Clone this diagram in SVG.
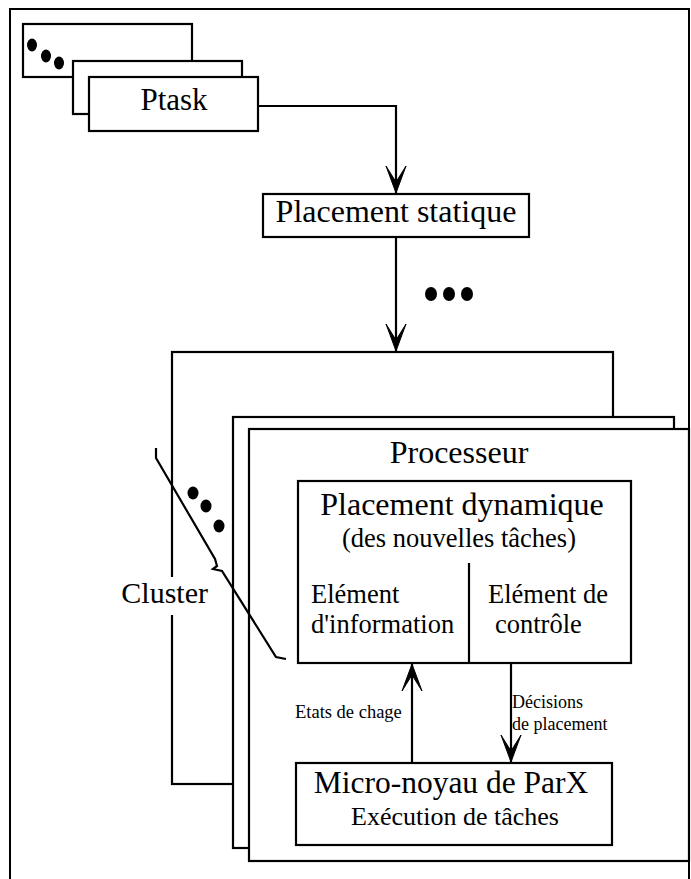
<svg xmlns="http://www.w3.org/2000/svg" width="691" height="879" viewBox="0 0 691 879">
<style>
.b{fill:#fff;stroke:#000;stroke-width:2.2}
.l{fill:none;stroke:#000;stroke-width:2.2}
.t{font-family:"Liberation Serif","Times New Roman",serif;fill:#000}
.d{fill:#000}
</style>
<defs>
<marker id="ah" markerUnits="userSpaceOnUse" viewBox="-28 -11 30 22" refX="0" refY="0" markerWidth="30" markerHeight="22" orient="auto">
<path d="M0,0 L-27,-10 L-11,0 L-27,10 Z" fill="#000" stroke="#000" stroke-width="1" stroke-linejoin="miter"/>
</marker>
</defs>
<rect width="691" height="879" fill="#fff"/>
<rect id="frame" x="10" y="9" width="679" height="872" fill="none" stroke="#000" stroke-width="2"/>

<g id="ptask">
<rect class="b" x="23" y="24" width="169" height="53"/>
<ellipse class="d" cx="32" cy="45" rx="5" ry="6.5"/>
<ellipse class="d" cx="46" cy="56" rx="5" ry="6.5"/>
<ellipse class="d" cx="59" cy="63" rx="5" ry="6.5"/>
<rect class="b" x="73" y="61" width="169" height="53"/>
<rect class="b" x="89" y="77" width="169" height="54"/>
<text class="t" x="174" y="110" font-size="31" text-anchor="middle">Ptask</text>
</g>

<g id="placement-statique">
<rect class="b" x="263" y="194" width="266" height="43"/>
<text class="t" x="396" y="222" font-size="32" text-anchor="middle">Placement statique</text>
</g>

<g id="dots-top">
<ellipse class="d" cx="431" cy="294" rx="6" ry="7"/>
<ellipse class="d" cx="449" cy="294" rx="6" ry="7"/>
<ellipse class="d" cx="467" cy="294" rx="6" ry="7"/>
</g>

<g id="cluster">
<rect class="b" x="172" y="352" width="441" height="432"/>
<rect x="120" y="577" width="90" height="38" fill="#fff"/>
<text class="t" x="208" y="603" font-size="30" text-anchor="end">Cluster</text>
</g>

<g id="cluster2">
<rect class="b" x="233" y="417" width="441" height="431"/>
</g>

<g id="processeur">
<rect class="b" x="249" y="429" width="440" height="432"/>
<text class="t" x="459" y="463" font-size="32" text-anchor="middle">Processeur</text>
</g>

<g id="cluster-dots">
<path class="l" d="M156,448 L156,458 L215,559 L217,566 L213,569 L222,571 L276,657 L286,659"/>
<ellipse class="d" cx="193" cy="493" rx="5.5" ry="6.5"/>
<ellipse class="d" cx="206" cy="506" rx="5.5" ry="6.5"/>
<ellipse class="d" cx="219" cy="526" rx="5.5" ry="6.5"/>
</g>

<g id="placement-dynamique">
<rect class="b" x="298" y="481" width="333" height="182"/>
<line class="l" x1="469" y1="563" x2="469" y2="663"/>
<text class="t" x="462" y="515" font-size="32" text-anchor="middle">Placement dynamique</text>
<text class="t" x="459" y="547" font-size="26.5" text-anchor="middle">(des nouvelles tâches)</text>
<text class="t" x="311" y="603" font-size="26.5">Elément</text>
<text class="t" x="311" y="633" font-size="26.5">d'information</text>
<text class="t" x="488" y="603" font-size="26.5">Elément de</text>
<text class="t" x="495" y="633" font-size="26.5">contrôle</text>
</g>

<g id="micro-noyau">
<rect class="b" x="296" y="763" width="316" height="82"/>
<text class="t" x="451" y="793" font-size="31.5" text-anchor="middle">Micro-noyau de ParX</text>
<text class="t" x="455" y="825" font-size="26" text-anchor="middle">Exécution de tâches</text>
</g>

<g id="connectors">
<polyline class="l" points="258,106 396,106 396,193" marker-end="url(#ah)"/>
<line class="l" x1="396" y1="237" x2="396" y2="351" marker-end="url(#ah)"/>
<line class="l" x1="412" y1="763" x2="412" y2="664" marker-end="url(#ah)"/>
<line class="l" x1="511" y1="663" x2="511" y2="762" marker-end="url(#ah)"/>
<text class="t" x="295" y="718" font-size="18.5">Etats de chage</text>
<text class="t" x="512" y="708" font-size="18">Décisions</text>
<text class="t" x="512" y="730" font-size="18">de placement</text>
</g>
</svg>
